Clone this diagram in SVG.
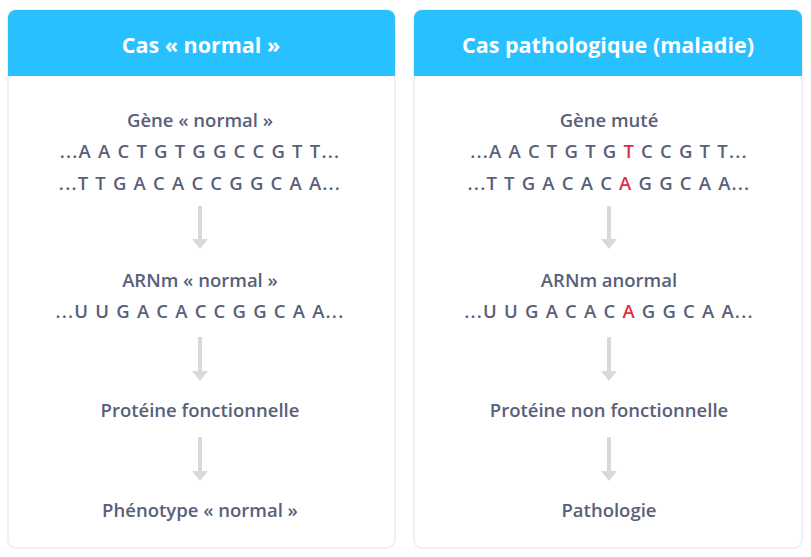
<svg xmlns="http://www.w3.org/2000/svg" width="811" height="557" viewBox="0 0 811 557">
<defs>
<style>
.panel{fill:#fff;stroke:#eef0f3;stroke-width:2}
.hd{fill:#29c0ff}
.ht{font-family:"Open Sans",Lato,sans-serif;font-weight:bold;font-size:21.5px;fill:#fff;text-anchor:middle}
.t{font-family:"Open Sans",Lato,sans-serif;font-weight:600;font-size:18.5px;fill:#59607a;text-anchor:middle}
.s{letter-spacing:1.2px}
.r{fill:#e8294a}
.arr{stroke:#d9d9d9;stroke-width:4;fill:none}
.ah{fill:#d9d9d9}
</style>
<marker id="m" markerWidth="4" markerHeight="4" refX="1.5" refY="2" orient="auto" markerUnits="strokeWidth"><path class="ah" d="M0,0 L2.5,2 L0,4 Z"/></marker>
</defs>
<rect width="811" height="557" fill="#fff"/>
<g id="left">
<rect class="panel" x="8" y="10" width="387" height="538" rx="8"/>
<path class="hd" d="M8,76 V18 a8,8 0 0 1 8,-8 H387 a8,8 0 0 1 8,8 V76 Z"/>
<text class="ht" x="201" y="53">Cas « normal »</text>
<text class="t" x="200" y="127">Gène « normal »</text>
<text class="t s" x="200" y="158">...A A C T G T G G C C G T T...</text>
<text class="t s" x="200" y="190">...T T G A C A C C G G C A A...</text>
<text class="t" x="200" y="287">ARNm « normal »</text>
<text class="t s" x="200" y="318">...U U G A C A C C G G C A A...</text>
<text class="t" x="200" y="417">Protéine fonctionnelle</text>
<text class="t" x="200" y="517">Phénotype « normal »</text>
</g>
<g id="right">
<rect class="panel" x="414" y="10" width="388" height="538" rx="8"/>
<path class="hd" d="M414,76 V18 a8,8 0 0 1 8,-8 H794 a8,8 0 0 1 8,8 V76 Z"/>
<text class="ht" x="608" y="53">Cas pathologique (maladie)</text>
<text class="t" x="609" y="127">Gène muté</text>
<text class="t s" x="609" y="158">...A A C T G T G <tspan class="r">T</tspan> C C G T T...</text>
<text class="t s" x="609" y="190">...T T G A C A C <tspan class="r">A</tspan> G G C A A...</text>
<text class="t" x="609" y="287">ARNm anormal</text>
<text class="t s" x="609" y="318">...U U G A C A C <tspan class="r">A</tspan> G G C A A...</text>
<text class="t" x="609" y="417">Protéine non fonctionnelle</text>
<text class="t" x="609" y="517">Pathologie</text>
</g>
<g id="connectors">
<line class="arr" x1="200" y1="206" x2="200" y2="245" marker-end="url(#m)"/>
<line class="arr" x1="200" y1="337" x2="200" y2="377" marker-end="url(#m)"/>
<line class="arr" x1="200" y1="437" x2="200" y2="477" marker-end="url(#m)"/>
<line class="arr" x1="609" y1="206" x2="609" y2="245" marker-end="url(#m)"/>
<line class="arr" x1="609" y1="337" x2="609" y2="377" marker-end="url(#m)"/>
<line class="arr" x1="609" y1="437" x2="609" y2="477" marker-end="url(#m)"/>
</g>
</svg>
